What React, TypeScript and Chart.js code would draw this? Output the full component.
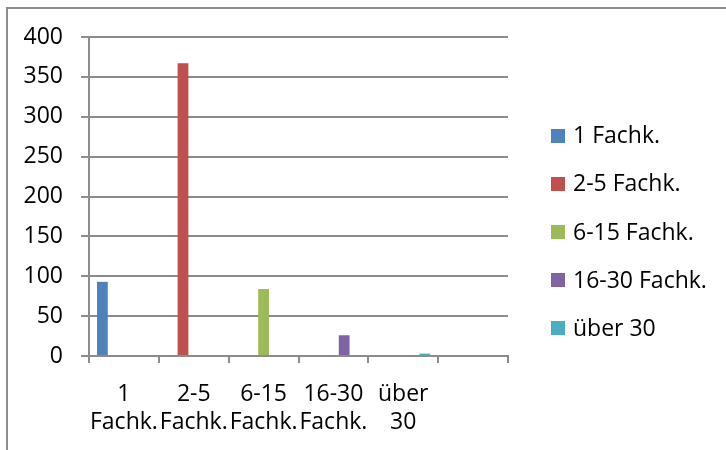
import React, { useEffect, useRef } from "react";
import { Chart, registerables } from "chart.js";

Chart.register(...registerables);

// ---- data ----
const categories: (string | string[])[] = [
  ["1", "Fachk."],
  ["2-5", "Fachk."],
  ["6-15", "Fachk."],
  ["16-30", "Fachk."],
  ["über", "30"],
  "",
];
const seriesNames = ["1 Fachk.", "2-5 Fachk.", "6-15 Fachk.", "16-30 Fachk.", "über 30"];
const seriesValues = [93, 367, 84, 26, 3];
const seriesColors = ["#4F81BD", "#C0504D", "#9BBB59", "#8064A2", "#4BACC6"];
const yMin = 0;
const yMax = 400;
const yStep = 50;

// ---- style ----
const FONT = "'Open Sans', sans-serif";
const FONT_SIZE = 23;
const GRID = "#8c8c8c";

const legendPlugin = {
  id: "sideLegend",
  afterDraw(chart: any) {
    const ctx = chart.ctx;
    const boxX = 551;
    const textX = 573;
    const top = 135.7;
    const step = 48.15;
    const size = 14;
    ctx.save();
    ctx.font = `${FONT_SIZE}px ${FONT}`;
    ctx.textBaseline = "middle";
    ctx.textAlign = "left";
    chart.data.datasets.forEach((ds: any, i: number) => {
      const cy = top + i * step;
      ctx.fillStyle = ds.backgroundColor;
      ctx.fillRect(boxX, Math.round(cy - size / 2), size, size);
      ctx.fillStyle = "#000";
      ctx.fillText(ds.label, textX, cy + 1);
    });
    ctx.restore();
  },
};

export default function App() {
  const ref = useRef<HTMLCanvasElement | null>(null);

  useEffect(() => {
    if (!ref.current) return;
    const datasets = seriesNames.map((name, i) => ({
      label: name,
      data: categories.map((_, j) => (j === i ? seriesValues[i] : null)),
      backgroundColor: seriesColors[i],
      borderWidth: 0,
      barPercentage: 1,
      categoryPercentage: 0.77,
    }));
    const chart = new Chart(ref.current, {
      type: "bar",
      data: { labels: categories as any, datasets },
      plugins: [legendPlugin],
      options: {
        responsive: false,
        animation: false,
        devicePixelRatio: 1,
        layout: { padding: { top: 37, right: 218, bottom: 0, left: 0 } },
        plugins: {
          legend: { display: false },
          tooltip: { enabled: false },
          title: { display: false },
        },
        scales: {
          x: {
            offset: true,
            grid: {
              offset: true,
              drawOnChartArea: false,
              drawTicks: true,
              tickLength: 7,
              color: GRID,
              lineWidth: 2,
            },
            border: { display: true, color: GRID, width: 2 },
            ticks: {
              font: { family: FONT, size: FONT_SIZE, lineHeight: 1.22 },
              color: "#000",
              padding: 17,
              maxRotation: 0,
              autoSkip: false,
            },
            afterFit: (s: any) => {
              s.height = 94;
            },
          },
          y: {
            min: yMin,
            max: yMax,
            ticks: {
              stepSize: yStep,
              font: { family: FONT, size: FONT_SIZE },
              color: "#000",
              padding: 18,
            },
            grid: { color: GRID, lineWidth: 2, tickLength: 8 },
            border: { display: true, color: GRID, width: 2 },
            afterFit: (s: any) => {
              s.width = 89;
            },
          },
        },
      },
    });
    return () => chart.destroy();
  }, []);

  return (
    <div style={{ position: "absolute", left: 0, top: 0, width: 726, height: 450, background: "#fff", overflow: "hidden" }}>
      <div
        style={{
          position: "absolute",
          left: 6,
          top: 7,
          right: -4,
          bottom: -4,
          borderLeft: "2px solid #8c8c8c",
          borderTop: "2px solid #8c8c8c",
        }}
      />
      <canvas ref={ref} width={726} height={450} style={{ position: "absolute", left: 0, top: 0, width: 726, height: 450 }} />
    </div>
  );
}
